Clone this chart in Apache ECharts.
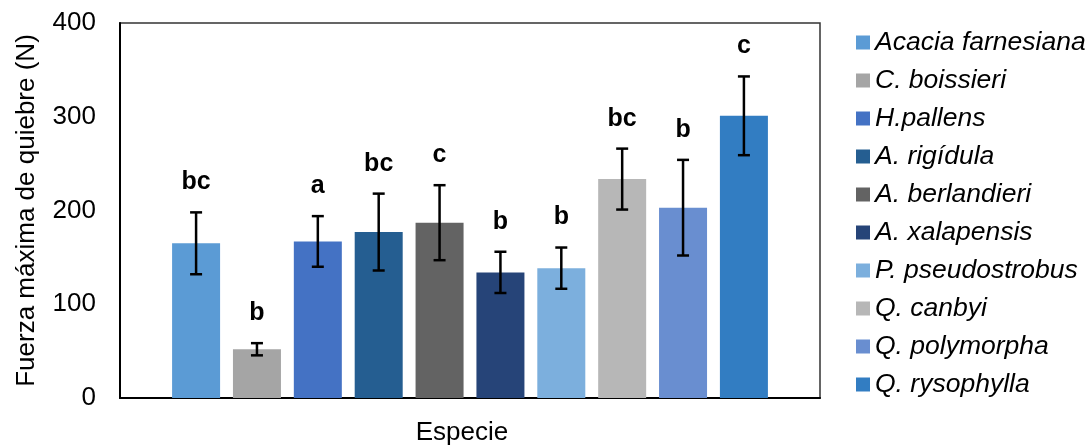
<!DOCTYPE html>
<html>
<head>
<meta charset="utf-8">
<script src="https://cdn.jsdelivr.net/npm/echarts@6/dist/echarts.min.js"></script>
<style>
html,body{margin:0;padding:0;background:#fff;}
#chart{width:1091px;height:445px;}
</style>
</head>
<body>
<div id="chart"></div>
<script>
var species = ['Acacia farnesiana','C. boissieri','H.pallens','A. rigídula','A. berlandieri','A. xalapensis','P. pseudostrobus','Q. canbyi','Q. polymorpha','Q. rysophylla'];
var means = [165, 52, 167, 177, 187, 134, 138.5, 233.5, 203, 301];
var errors = [33, 6.5, 27, 41, 40, 22, 22, 32.5, 51, 42];
var letters = ['bc','b','a','bc','c','b','b','bc','b','c'];
var colors = ['#5B9BD5','#A5A5A5','#4472C4','#255E91','#636363','#264478','#7CAFDD','#B7B7B7','#698ED0','#327DC2'];
var yTicks = [0, 100, 200, 300, 400];

var FONT = "'Liberation Sans', Arial, sans-serif";
var chart = echarts.init(document.getElementById('chart'));

var series = species.map(function (name, i) {
  return {
    name: name,
    type: 'bar',
    barWidth: 48,
    barGap: '-100%',
    itemStyle: { color: colors[i] },
    data: [[i + 1, means[i]]],
    z: 2
  };
});

var errData = means.map(function (m, i) {
  return [i + 1, m - errors[i], m + errors[i], letters[i]];
});

series.push({
  type: 'custom',
  name: 'err',
  z: 5,
  data: errData,
  renderItem: function (params, api) {
    var x = api.value(0);
    var lo = api.coord([x, api.value(1)]);
    var hi = api.coord([x, api.value(2)]);
    var cap = 6;
    var st = { stroke: '#000', lineWidth: 2.5 };
    return {
      type: 'group',
      children: [
        { type: 'line', shape: { x1: lo[0], y1: lo[1], x2: hi[0], y2: hi[1] }, style: st },
        { type: 'line', shape: { x1: hi[0] - cap, y1: hi[1], x2: hi[0] + cap, y2: hi[1] }, style: st },
        { type: 'line', shape: { x1: lo[0] - cap, y1: lo[1], x2: lo[0] + cap, y2: lo[1] }, style: st },
        { type: 'text', x: hi[0], y: hi[1] - 30,
          style: { text: letters[params.dataIndex], fill: '#000', font: 'bold 25px ' + FONT, align: 'center', verticalAlign: 'middle' } }
      ]
    };
  }
});

chart.setOption({
  animation: false,
  backgroundColor: '#fff',
  grid: { left: 120, right: 271, top: 23, bottom: 47, show: true, borderColor: '#333', borderWidth: 1.5, backgroundColor: 'transparent', containLabel: false, outerBoundsMode: 'none' },
  legend: {
    data: species,
    orient: 'vertical',
    left: 856,
    top: 29,
    padding: 0,
    icon: 'rect',
    itemWidth: 14,
    itemHeight: 14,
    itemGap: 11,
    textStyle: { fontFamily: FONT, fontSize: 26.5, fontStyle: 'italic', color: '#000', lineHeight: 26 }
  },
  xAxis: {
    type: 'value',
    min: -0.25,
    max: 11.25,
    name: 'Especie',
    nameLocation: 'middle',
    nameGap: 22,
    nameTextStyle: { fontFamily: FONT, fontSize: 26, color: '#000', padding: [0, 16, 0, 0] },
    axisLine: { show: true, onZero: false, lineStyle: { color: '#000', width: 2 } },
    axisTick: { show: false },
    axisLabel: { show: false },
    splitLine: { show: false }
  },
  yAxis: {
    type: 'value',
    min: 0,
    max: 400,
    interval: 100,
    name: 'Fuerza máxima de quiebre (N)',
    nameLocation: 'middle',
    nameGap: 80,
    nameTextStyle: { fontFamily: FONT, fontSize: 26, color: '#000' },
    axisLine: { show: true, onZero: false, lineStyle: { color: '#000', width: 2 } },
    axisTick: { show: false },
    splitLine: { show: false },
    axisLabel: {
      margin: 24,
      fontFamily: FONT, fontSize: 26, color: '#000',
      formatter: function (v) { return yTicks.indexOf(v) >= 0 ? String(v) : ''; }
    }
  },
  series: series
});
</script>
</body>
</html>
